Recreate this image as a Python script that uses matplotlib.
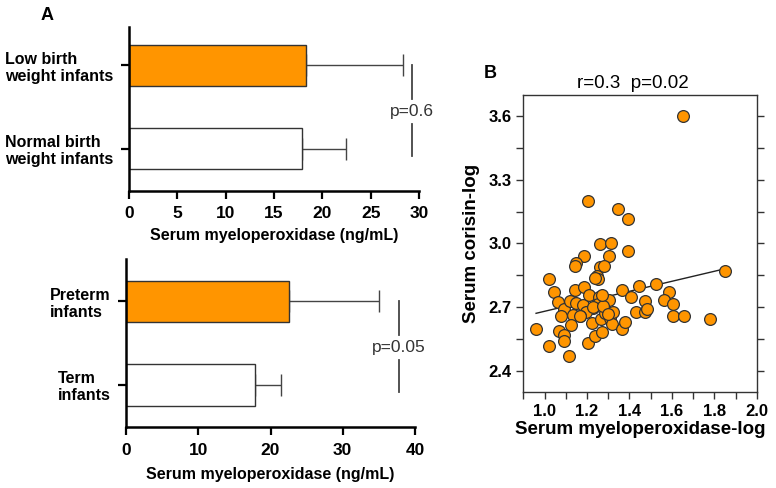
import numpy as np
import matplotlib
matplotlib.use("Agg")
import matplotlib.pyplot as plt
from matplotlib.ticker import MultipleLocator

plt.rcParams['font.family'] = ['Liberation Sans', 'DejaVu Sans']

# Painel A - peso ao nascer
grupos_peso = ['Normal birth\nweight infants', 'Low birth\nweight infants']
media_peso = [17.9, 18.3]
erro_peso = [4.6, 10.0]
p_peso = 'p=0.6'

# Painel A - idade gestacional
grupos_idade = ['Term\ninfants', 'Preterm\ninfants']
media_idade = [17.85, 22.5]
erro_idade = [3.55, 12.5]
p_idade = 'p=0.05'

# Painel B - dispersao (log)
mpo_log = [1.653, 1.205, 1.347, 1.394, 1.260, 1.313, 1.185, 1.303, 1.393, 1.150,
           1.144, 1.262, 1.280, 1.246, 1.252, 1.240, 1.022, 1.046, 1.142, 1.188,
           1.364, 1.407, 1.443, 1.527, 1.587, 1.562, 1.606, 1.850, 1.063, 1.093,
           1.118, 1.148, 1.183, 1.211, 1.255, 1.251, 1.290, 1.306, 1.229, 1.197,
           1.169, 1.134, 1.079, 1.123, 1.066, 1.090, 1.090, 0.960, 1.021, 1.114,
           1.205, 1.240, 1.271, 1.222, 1.268, 1.284, 1.309, 1.320, 1.322, 1.366,
           1.377, 1.431, 1.472, 1.473, 1.484, 1.603, 1.656, 1.780, 1.230, 1.275,
           1.165, 1.270, 1.300]
corisina_log = [3.600, 3.202, 3.161, 3.117, 2.995, 3.000, 2.940, 2.940, 2.962, 2.905,
                2.895, 2.890, 2.895, 2.845, 2.830, 2.837, 2.833, 2.770, 2.782, 2.795,
                2.782, 2.746, 2.798, 2.809, 2.770, 2.735, 2.715, 2.868, 2.724, 2.691,
                2.727, 2.720, 2.709, 2.755, 2.748, 2.712, 2.732, 2.735, 2.696, 2.677,
                2.657, 2.662, 2.657, 2.616, 2.586, 2.566, 2.539, 2.597, 2.514, 2.469,
                2.528, 2.563, 2.580, 2.626, 2.641, 2.673, 2.649, 2.618, 2.676, 2.594,
                2.629, 2.677, 2.727, 2.677, 2.688, 2.657, 2.657, 2.645, 2.700, 2.705,
                2.657, 2.757, 2.665]
reta_x = [0.96, 1.85]
reta_y = [2.67, 2.88]
texto_r = 'r=0.3  p=0.02'

laranja = '#FF9500'
borda = '#333333'

fig = plt.figure(figsize=(7.76, 4.88), dpi=100)


def painel_barras(ax, grupos, medias, erros, p_txt, xmax, passo, x_p, ylim, lpad):
    pos = np.arange(len(grupos))
    ax.barh(pos, medias, height=0.5, color=['white', laranja], edgecolor=borda,
            linewidth=1.0, zorder=2)
    ax.errorbar(medias, pos, xerr=[np.zeros(len(erros)), erros], fmt='none',
                ecolor='#444444', elinewidth=1.0, capsize=8, capthick=1.0, zorder=1)
    ax.set_xlim(0, xmax)
    ax.set_ylim(*ylim)
    ax.set_yticks(pos)
    ax.set_yticklabels(grupos, fontsize=11.5, fontweight='bold', linespacing=1.15,
                       multialignment='left')
    ax.xaxis.set_major_locator(MultipleLocator(passo))
    for lab in ax.get_xticklabels():
        lab.set_fontweight('bold')
        lab.set_fontsize(12.5)
    ax.set_xlabel('Serum myeloperoxidase (ng/mL)', fontsize=11.5, fontweight='bold', labelpad=lpad)
    ax.spines['top'].set_visible(False)
    ax.spines['right'].set_visible(False)
    ax.spines['left'].set_linewidth(1.8)
    ax.spines['bottom'].set_linewidth(1.8)
    ax.tick_params(axis='x', direction='out', length=6, width=1.6, pad=5)
    ax.tick_params(axis='y', direction='out', length=6, width=1.6, pad=5)
    # linha do valor de p
    ax.plot([x_p, x_p], [1.0, 0.6], color='#444444', lw=1.3, clip_on=False)
    ax.plot([x_p, x_p], [0.3, -0.09], color='#444444', lw=1.3, clip_on=False)
    ax.text(x_p, 0.45, p_txt, fontsize=12.5, ha='center', va='center', color='#333333')


ax1 = fig.add_axes([0.1662, 0.6086, 0.3737, 0.336])
painel_barras(ax1, grupos_peso, media_peso, erro_peso, p_peso, 30, 5, 29.3, (-0.51, 1.46), 5)

ax2 = fig.add_axes([0.1624, 0.1244, 0.3724, 0.3449])
painel_barras(ax2, grupos_idade, media_idade, erro_idade, p_idade, 40, 10, 37.8, (-0.51, 1.51), 7)

# Painel B
ax3 = fig.add_axes([0.6744, 0.1973, 0.3008, 0.608])
ax3.scatter(mpo_log, corisina_log, s=72, color=laranja, edgecolor=borda, linewidth=0.9, zorder=3)
ax3.plot(reta_x, reta_y, color='#222222', lw=1.0, zorder=2)
ax3.set_xlim(0.9, 2.0)
ax3.set_ylim(2.3, 3.7)
ax3.xaxis.set_minor_locator(MultipleLocator(0.1))
ax3.yaxis.set_minor_locator(MultipleLocator(0.15))
ax3.set_xticks(np.arange(1.0, 2.01, 0.2))
ax3.set_yticks([2.4, 2.7, 3.0, 3.3, 3.6])
ax3.set_xticklabels(['1.0', '1.2', '1.4', '1.6', '1.8', '2.0'])
ax3.set_yticklabels(['2.4', '2.7', '3.0', '3.3', '3.6'])
for lab in ax3.get_xticklabels() + ax3.get_yticklabels():
    lab.set_fontweight('bold')
    lab.set_fontsize(12)
ax3.tick_params(which='both', direction='out', left=True, right=True, top=False,
                bottom=True, width=1.0, color='#333333', length=5)
for s in ax3.spines.values():
    s.set_linewidth(1.0)
    s.set_color('#333333')
ax3.set_xlabel('Serum myeloperoxidase-log', fontsize=13.5, fontweight='bold', labelpad=2)
ax3.set_ylabel('Serum corisin-log', fontsize=13.5, fontweight='bold', labelpad=6)
ax3.text(0.47, 1.01, texto_r, fontsize=13.5, ha='center', va='bottom', transform=ax3.transAxes)

fig.text(47 / 776, 1 - 15 / 488, 'A', fontsize=13, fontweight='bold', ha='center', va='center')
fig.text(490 / 776, 1 - 74 / 488, 'B', fontsize=13, fontweight='bold', ha='center', va='center')

plt.savefig('out.png', dpi=100)
